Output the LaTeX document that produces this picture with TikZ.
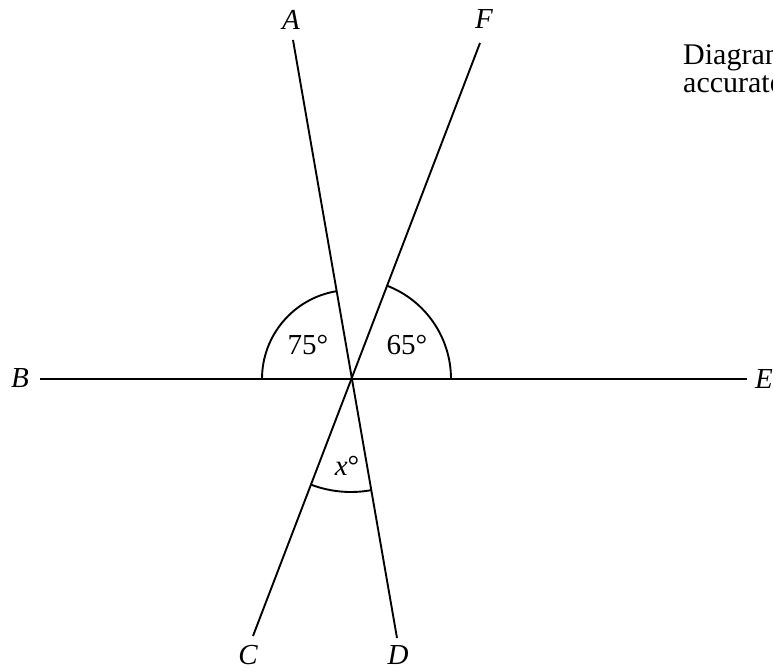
\documentclass[tikz,border=0pt]{standalone}
\usepackage{fontspec}
\setmainfont{Liberation Serif}
\begin{document}
\begin{tikzpicture}[x=1pt,y=1pt,
  ln/.style={line width=1.9pt},
  lbl/.style={font=\fontsize{29}{32}\selectfont\itshape, inner sep=0pt},
  ang/.style={font=\fontsize{29}{32}\selectfont, inner sep=0pt},
  note/.style={font=\fontsize{30}{32}\selectfont, inner sep=0pt, anchor=base west}]
\useasboundingbox (0,0) rectangle (773,671);
\clip (0,0) rectangle (773,671);
\coordinate (O) at (351,292);
\coordinate (a) at (293,631);
\coordinate (d) at (397,33);
\coordinate (f) at (480,628);
\coordinate (c) at (253,35);
\coordinate (b) at (40,292);
\coordinate (e) at (747,292);
\draw[ln] (a) -- (d);
\draw[ln] (f) -- (c);
\draw[ln] (b) -- (e);
\draw[ln] ([shift={(180:89)}]O) arc[start angle=180, end angle=99.7, radius=89];
\draw[ln] ([shift={(0:100)}]O) arc[start angle=0, end angle=69, radius=100];
\draw[ln] ([shift={(249.1:113)}]O) arc[start angle=249.1, end angle=280.1, radius=113];
\node[ang] (l75) at (308,326) {75°};
\node[ang] (l65) at (407,326) {65°};
\node[ang] (lx) at (347,205) {\textit{x}°};
\node[lbl] (A) at (291,651) {A};
\node[lbl] (F) at (484,652) {F};
\node[lbl] (B) at (20,293) {B};
\node[lbl] (E) at (764,292) {E};
\node[lbl] (C) at (248,16) {C};
\node[lbl] (D) at (398,16) {D};
\node[note] (n1) at (683,606) {Diagram NOT};
\node[note] (n2) at (683,578) {accurately drawn};
\end{tikzpicture}
\end{document}
